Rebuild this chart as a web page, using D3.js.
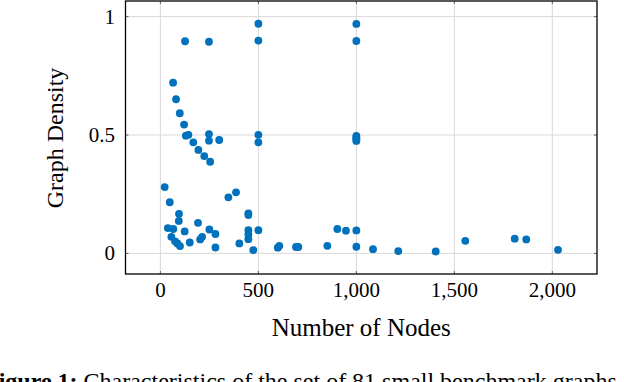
<!DOCTYPE html>
<html>
<head>
<meta charset="utf-8">
<script src="https://cdn.jsdelivr.net/npm/d3@7"></script>
<style>
  html, body { margin: 0; padding: 0; background: #fff; }
  svg { display: block; }
  text { font-family: "Liberation Serif", "DejaVu Serif", serif; fill: #000; }
</style>
</head>
<body>
<svg id="chart" width="624" height="382"></svg>
<script>
// Number of nodes per benchmark graph
const nodes = [
  500, 500, 126, 248, 1000, 1000,
  65, 80, 99, 121, 130, 143, 168, 194, 224, 254,
  248, 248, 300, 500, 500,
  1000, 1000, 1000, 1000,
  22, 48, 95, 94, 38, 66, 124, 192, 250, 281, 56, 75, 87, 100, 150, 203, 213, 281,
  347, 386, 449, 449, 449, 449, 449, 500, 403, 474, 599, 607,
  692, 704, 852, 903, 947, 1000, 1000, 1085, 1214, 1405, 1556, 1808, 1867, 2029
];
// Graph density per benchmark graph
const density = [
  0.970, 0.899, 0.896, 0.894, 0.969, 0.897,
  0.721, 0.651, 0.592, 0.544, 0.497, 0.501, 0.469, 0.437, 0.411, 0.387,
  0.504, 0.476, 0.479, 0.501, 0.469,
  0.496, 0.489, 0.482, 0.475,
  0.280, 0.216, 0.167, 0.137, 0.107, 0.103, 0.093, 0.129, 0.101, 0.082, 0.070, 0.051, 0.042, 0.031, 0.046, 0.059, 0.070, 0.025,
  0.237, 0.258, 0.169, 0.162, 0.098, 0.080, 0.060, 0.098, 0.042, 0.014, 0.024, 0.032,
  0.027, 0.027, 0.032, 0.103, 0.096, 0.097, 0.028, 0.018, 0.010, 0.008, 0.053, 0.062, 0.059, 0.015
];
const xTicks = [0, 500, 1000, 1500, 2000];
const xTickLabels = ["0", "500", "1,000", "1,500", "2,000"];
const yTicks = [0, 0.5, 1];
const yTickLabels = ["0", "0.5", "1"];
const xTitle = "Number of Nodes";
const yTitle = "Graph Density";
const captionBold = "Figure 1:";
const captionRest = " Characteristics of the set of 81 small benchmark graphs";

const svg = d3.select("#chart");
const L = 125.5, R = 597, T = 1, B = 274;

const x = d3.scaleLinear().domain([-178, 2228]).range([L, R]);
const y = d3.scaleLinear().domain([-0.087, 1.066]).range([B, T]);

// grid
const g = svg.append("g");
g.selectAll(".gx").data(xTicks).enter().append("line")
  .attr("x1", d => x(d)).attr("x2", d => x(d)).attr("y1", T).attr("y2", B)
  .attr("stroke", "#d9d9d9").attr("stroke-width", 1);
g.selectAll(".gy").data(yTicks).enter().append("line")
  .attr("y1", d => y(d)).attr("y2", d => y(d)).attr("x1", L).attr("x2", R)
  .attr("stroke", "#d9d9d9").attr("stroke-width", 1);

// inward tick marks on all sides
const tk = 3;
xTicks.forEach(d => {
  g.append("line").attr("x1", x(d)).attr("x2", x(d)).attr("y1", B).attr("y2", B - tk).attr("stroke", "#444").attr("stroke-width", 0.8);
  g.append("line").attr("x1", x(d)).attr("x2", x(d)).attr("y1", T).attr("y2", T + tk).attr("stroke", "#444").attr("stroke-width", 0.8);
});
yTicks.forEach(d => {
  g.append("line").attr("y1", y(d)).attr("y2", y(d)).attr("x1", L).attr("x2", L + tk).attr("stroke", "#444").attr("stroke-width", 0.8);
  g.append("line").attr("y1", y(d)).attr("y2", y(d)).attr("x1", R).attr("x2", R - tk).attr("stroke", "#444").attr("stroke-width", 0.8);
});

// points
const pts = nodes.map((n, i) => ({ n, d: density[i] }));
svg.append("g").selectAll("circle").data(pts).enter().append("circle")
  .attr("cx", p => x(p.n)).attr("cy", p => y(p.d)).attr("r", 3.9)
  .attr("fill", "#0071BC");

// box
svg.append("rect").attr("x", L).attr("y", T).attr("width", R - L).attr("height", B - T)
  .attr("fill", "none").attr("stroke", "#000").attr("stroke-width", 1.3);

// tick labels
svg.append("g").selectAll("text").data(xTicks).enter().append("text")
  .attr("x", d => x(d)).attr("y", 297).attr("text-anchor", "middle")
  .attr("font-size", 21).text((d, i) => xTickLabels[i]);
svg.append("g").selectAll("text").data(yTicks).enter().append("text")
  .attr("x", 115).attr("y", d => y(d) + 7).attr("text-anchor", "end")
  .attr("font-size", 21).text((d, i) => yTickLabels[i]);

// axis titles
svg.append("text").attr("x", (L + R) / 2).attr("y", 336).attr("text-anchor", "middle")
  .attr("font-size", 25).text(xTitle);
svg.append("text").attr("transform", "translate(63,138) rotate(-90)").attr("text-anchor", "middle")
  .attr("font-size", 24).text(yTitle);

// caption (cut off at bottom and sides, as in the source figure)
const cap = svg.append("text").attr("x", -16).attr("y", 389).attr("font-size", 24);
cap.append("tspan").attr("font-weight", "bold").text(captionBold);
cap.append("tspan").text(captionRest);
</script>
</body>
</html>
